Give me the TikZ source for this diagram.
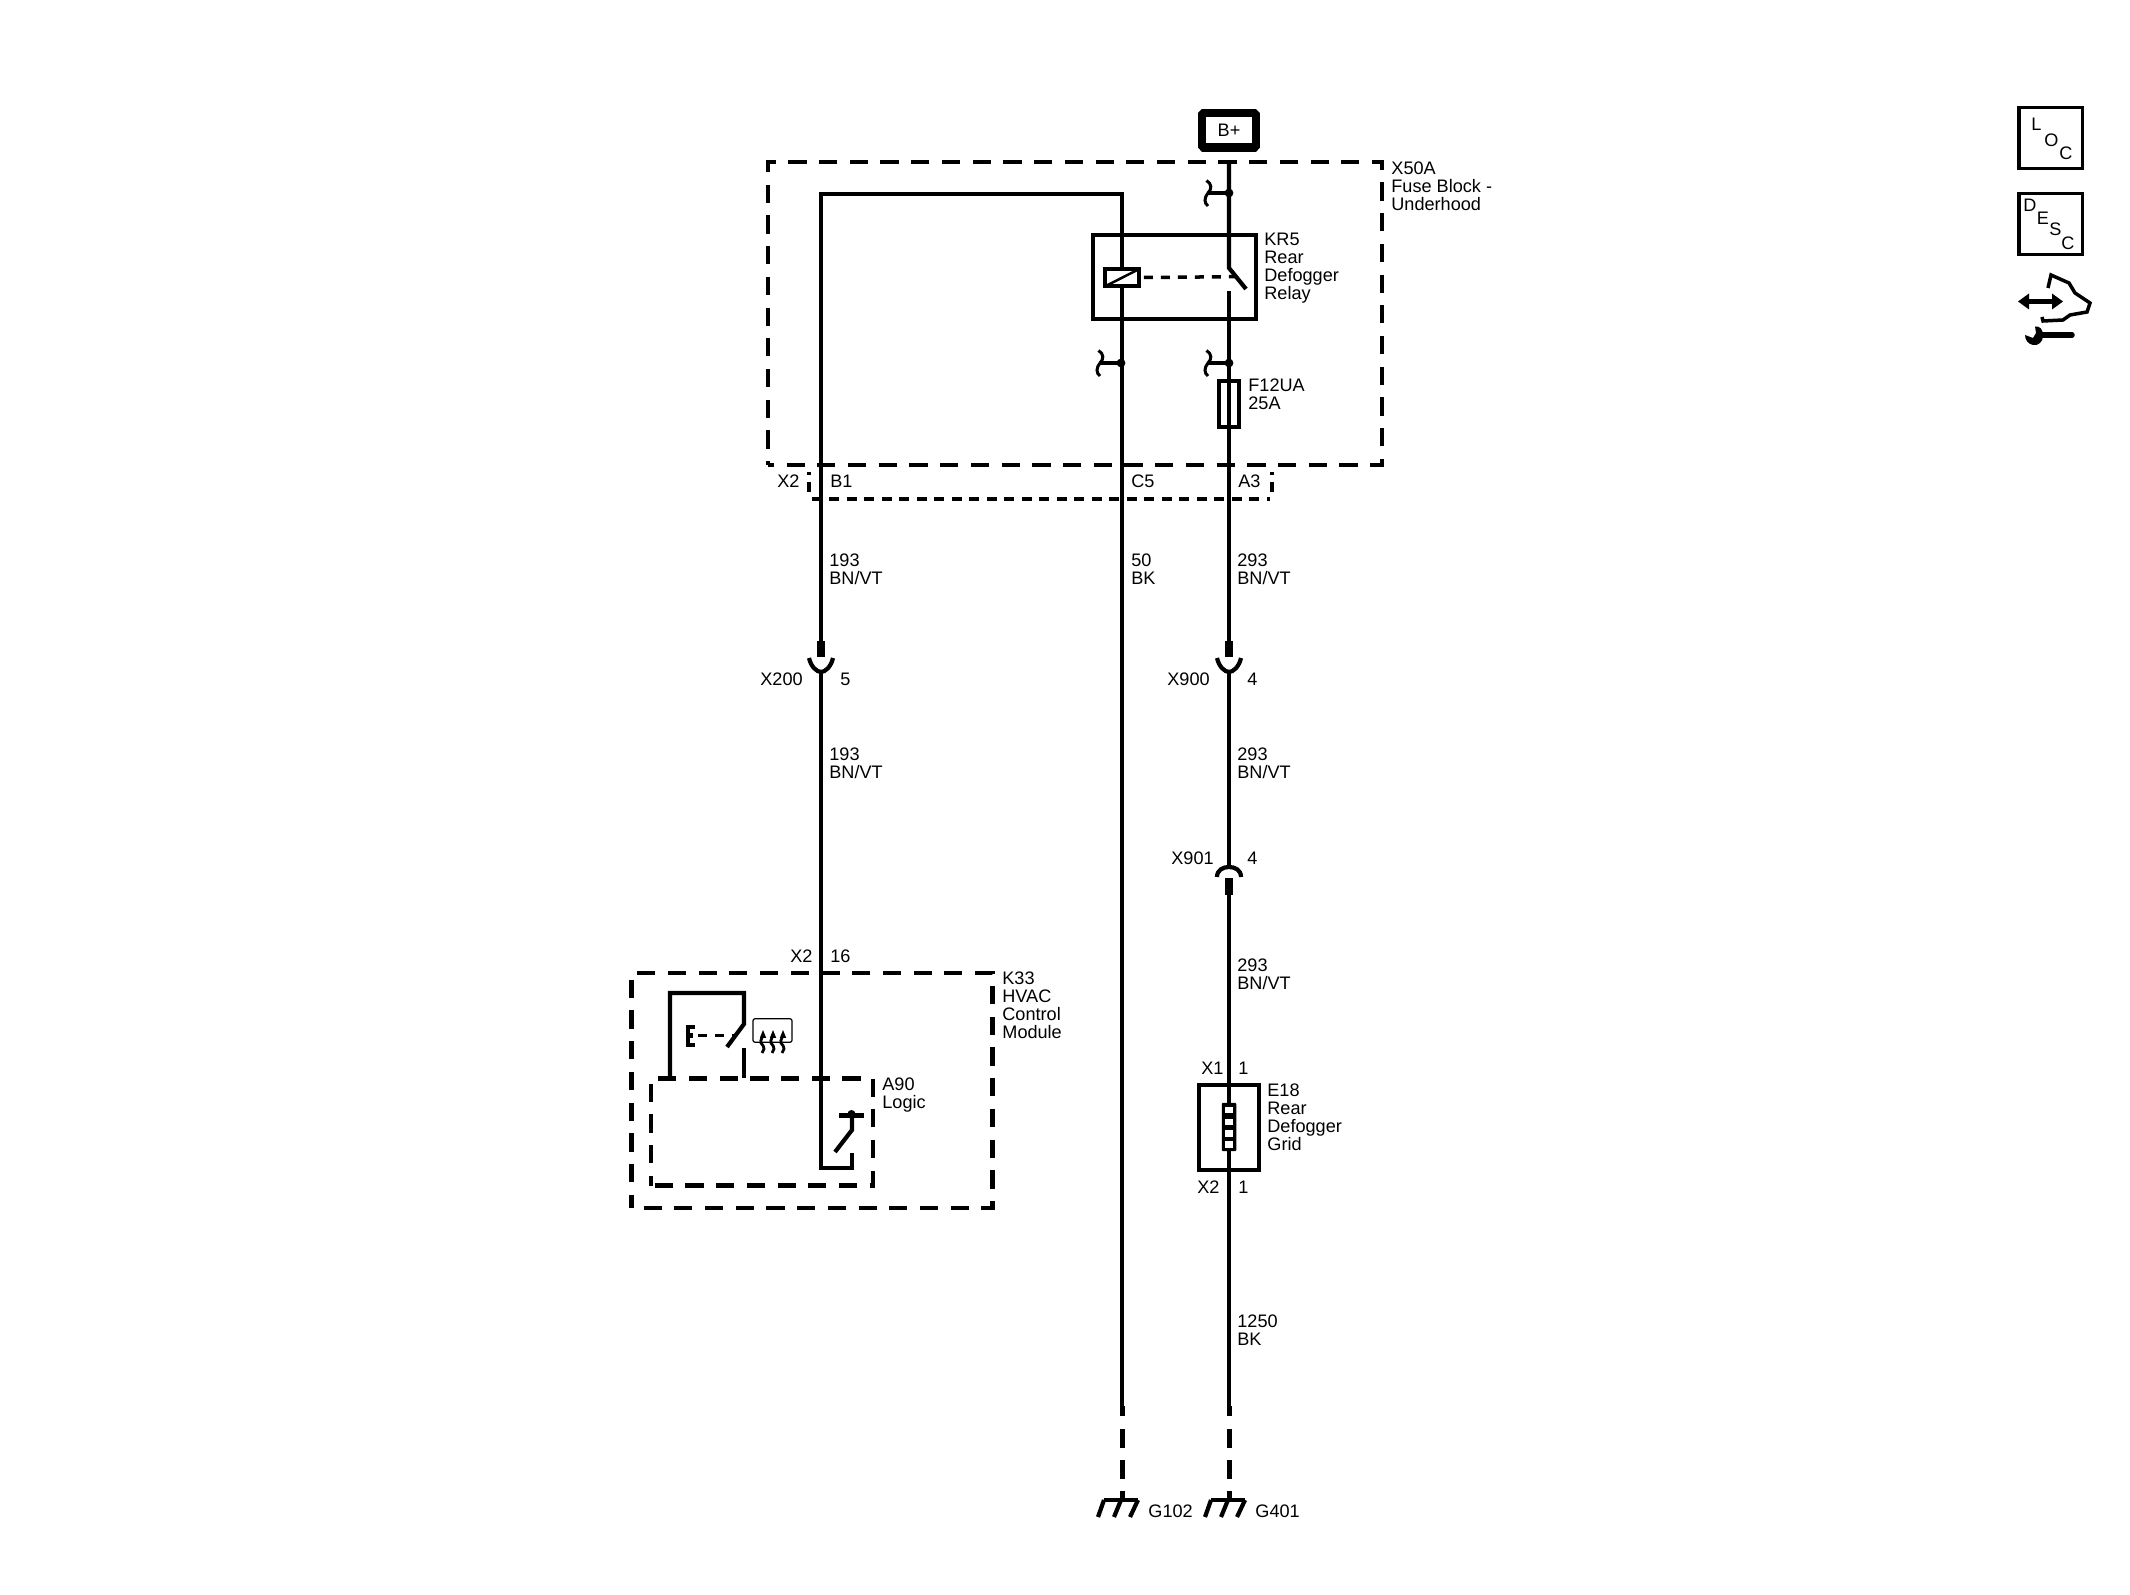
\documentclass[tikz,border=0pt]{standalone}
\usepackage{fontspec}
\setmainfont{Liberation Sans}
\usepackage{tikz}
\usetikzlibrary{calc}
\tikzstyle{wire} = [line width=0.042cm]
\tikzstyle{stub} = [line width=0.08cm]
\tikzstyle{gndwire} = [line width=0.05cm]
\tikzstyle{gnddash} = [line width=0.05cm, dash pattern=on 0.19cm off 0.12cm]
\tikzstyle{thinbox} = [rectangle, draw, line width=0.04cm, inner sep=0, fill=white]
\tikzstyle{dashbox} = [rectangle, draw, line width=0.045cm, inner sep=0, dash pattern=on 0.182cm off 0.125cm]
\tikzstyle{portbox} = [line width=0.035cm, dash pattern=on 0.1cm off 0.075cm]
\tikzstyle{ctrl} = [line width=0.035cm, dash pattern=on 0.09cm off 0.08cm]
\tikzstyle{lab} = [anchor=north west, inner sep=0, align=left, xshift=-0.013cm, yshift=0.006cm, font=\fontsize{5.15pt}{5.12pt}\selectfont]
\tikzset{
  splice/.pic={
    \fill (0,0) circle (4.4);
    \draw [wire] (0,0) -- (-21,0);
    \draw [line width=0.03cm] (-22.5,-12.5) .. controls (-17,-9) and (-17,-4) .. (-21,0) .. controls (-25,5) and (-25,10) .. (-21,13);
  },
  socketdown/.pic={
    \draw [wire] (-12,-14) .. controls (-10,-5) and (-4,0) .. (0,0) .. controls (4,0) and (10,-5) .. (12,-14);
  },
  socketup/.pic={
    \draw [wire] (-12,10) .. controls (-12,3) and (-6,0) .. (0,0) .. controls (6,0) and (12,3) .. (12,10);
  },
  ground/.pic={
    \draw [wire] (-18,0) -- (16,0);
    \draw [wire] (-18,0) -- (-24,17);
    \draw [wire] (-1,0) -- (-8,17);
    \draw [wire] (16,0) -- (8,17);
  },
  steam/.pic={
    \draw [line width=0.028cm] (0,4) .. controls (0,7) and (-3,8) .. (-2,12) .. controls (-1,15) and (2,15) .. (1,18) .. controls (0.5,20) and (-1,21) .. (-1,22);
    \fill (0,-1) -- (-3.2,7) -- (3.2,7) -- cycle;
  }
}
\begin{document}
\begin{tikzpicture}[x=0.01cm, y=-0.01cm]
    \useasboundingbox (0,0) rectangle (2130,1595);

    % boxes
    \node (fuseblock) [dashbox, dash phase=0.12cm, minimum width=6.14cm, minimum height=3.03cm] at (1075,313.5) {};
    \node (hvac) [dashbox, dash phase=0.186cm, minimum width=3.61cm, minimum height=2.35cm] at (812,1090.5) {};
    \node (logic) [dashbox, dash phase=0.27cm, minimum width=2.22cm, minimum height=1.07cm] at (762,1132) {};

    % wire points
    \coordinate (b_corner) at (821,194);
    \coordinate (g_corner) at (1122,194);
    \coordinate (a_top) at (1229,162);
    \coordinate (a_pivot) at (1229,268);
    \coordinate (a_tip) at (1246,289);
    \coordinate (a_contact) at (1229,291);
    \coordinate (x900_top) at (1229,641);
    \coordinate (x900_end) at (1229,657);
    \coordinate (x900) at (1229,672);
    \coordinate (x901) at (1229,867);
    \coordinate (x901_end) at (1229,878);
    \coordinate (x901_low) at (1229,895);
    \coordinate (a_solid) at (1229,1406);
    \coordinate (a_thick) at (1229,1416);
    \coordinate (a_dash) at (1229,1429);
    \coordinate (g401) at (1229,1500);
    \coordinate (g_solid) at (1122,1406);
    \coordinate (g_thick) at (1122,1416);
    \coordinate (g_dash) at (1122,1429);
    \coordinate (g102) at (1122,1500);
    \coordinate (x200_top) at (821,641);
    \coordinate (x200_end) at (821,657);
    \coordinate (x200) at (821,672);
    \coordinate (b_low) at (821,1168);
    \coordinate (b_right) at (852,1168);
    \coordinate (b_contact) at (852,1153);
    \coordinate (sw_tip) at (835,1152);
    \coordinate (sw_knee) at (852,1130);
    \coordinate (sw_top) at (852,1114);
    \coordinate (s_left) at (670,1078);
    \coordinate (s_topleft) at (670,993);
    \coordinate (s_topright) at (744,993);
    \coordinate (s_pivot) at (744,1024);
    \coordinate (s_tip) at (727,1047);
    \coordinate (s_contact) at (744,1048);
    \coordinate (s_low) at (744,1078);

    % edges
    \draw [wire] (x200_top) -- (b_corner) -- (g_corner) -- (g_solid);
    \draw [wire] (a_top) -- (a_pivot) -- (a_tip);
    \draw [wire] (a_contact) -- (x900_top);
    \draw [wire] (x900) -- (x901);
    \draw [wire] (x901_low) -- (a_solid);
    \draw [wire] (x200) -- (b_low) -- (b_right) -- (b_contact);
    \draw [wire] (sw_tip) -- (sw_knee) -- (sw_top);
    \draw [stub] (x900_top) -- (x900_end);
    \draw [stub] (x200_top) -- (x200_end);
    \draw [stub] (x901_end) -- (x901_low);
    \draw [gndwire] (a_solid) -- (a_thick);
    \draw [gndwire] (g_solid) -- (g_thick);
    \draw [gnddash] (a_dash) -- (g401);
    \draw [gnddash] (g_dash) -- (g102);
    \draw [wire] (s_left) -- (s_topleft) -- (s_topright) -- (s_pivot) -- (s_tip);
    \draw [wire] (s_contact) -- (s_low);

    % port box
    \coordinate (port_a) at (809,472);
    \coordinate (port_b) at (809,475.5);
    \coordinate (port_c) at (809,482);
    \coordinate (port_d) at (809,492);
    \coordinate (port_e) at (811.7,499);
    \coordinate (port_f) at (1270,499);
    \coordinate (port_g) at (1272,492);
    \coordinate (port_h) at (1272,482);
    \coordinate (port_i) at (1272,475.5);
    \coordinate (port_j) at (1272,472);
    \draw [portbox] (port_e) -- (port_f);
    \draw [line width=0.035cm] (port_a) -- (port_b);
    \draw [line width=0.035cm] (port_c) -- (port_d);
    \draw [line width=0.035cm] (port_g) -- (port_h);
    \draw [line width=0.035cm] (port_i) -- (port_j);

    % parts
    \path (x900) pic {socketdown};
    \path (x200) pic {socketdown};
    \path (x901) pic {socketup};
    \path (g401) pic {ground};
    \path (g102) pic {ground};
    \path (1229,193) pic {splice};
    \path (1229,363) pic {splice};
    \path (1121,363) pic {splice};

    \node (bplus) [rectangle, draw, line width=0.085cm, line join=bevel, minimum width=0.54cm, minimum height=0.345cm, inner sep=0, font=\fontsize{5.15pt}{5.12pt}\selectfont] at (1229,130.5) {\raisebox{-0.3pt}{B+}};
    \node (relay) [rectangle, draw, line width=0.04cm, minimum width=1.625cm, minimum height=0.845cm] at (1174.7,277) {};
    \node (coil) [thinbox, minimum width=0.335cm, minimum height=0.165cm] at (1122,277.5) {};
    \draw [line width=0.025cm] ($(coil.south west)+(3,-2)$) -- ($(coil.north east)+(-2,2)$);
    \coordinate (relay_tip) at (1235,276.7);
    \draw [ctrl] ($(coil.east)+(3,0)$) -- (relay_tip);
    \node (fuse) [rectangle, draw, line width=0.04cm, minimum width=0.195cm, minimum height=0.46cm, inner sep=0] at (1229,404) {};

    % grid
    \node (grid) [rectangle, draw, line width=0.042cm, minimum width=0.6cm, minimum height=0.85cm] at (1229,1127.5) {};
    \node (grid_res) [rectangle, fill=black, rounded corners=0.01cm, minimum width=0.145cm, minimum height=0.48cm, inner sep=0] at (1229,1127) {};
    \foreach \y in {1110,1122,1133.5,1144.5} {
        \fill [white] (1225,\y-3.2) rectangle (1233,\y+3.2);
    }

    % defrost switch
    \draw [wire] (695,1027) -- (688,1027) -- (688,1045) -- (695,1045);
    \draw [wire] (688,1035.5) -- (693,1035.5);
    \coordinate (ctrl_a) at (698,1035.5);
    \coordinate (ctrl_b) at (735,1035.5);
    \draw [ctrl] (ctrl_a) -- (ctrl_b);
    \node (heatbox) [rectangle, draw, line width=0.012cm, rounded corners=0.02cm, minimum width=0.39cm, minimum height=0.23cm] at (772.5,1030.5) {};
    \foreach \x in {763,773,783} {
        \path (\x,1031) pic {steam};
    }

    % logic switch
    \draw [wire] (839,1115.5) -- (864,1115.5);
    \fill (851.5,1114) circle (4);

    % labels
    \node (x50a_lab) [lab] at (1392,162) {X50A\\Fuse Block -\\Underhood};
    \node (kr5_lab) [lab] at (1265,233) {KR5\\Rear\\Defogger\\Relay};
    \node (f12_lab) [lab] at (1249,379) {F12UA\\25A};
    \node (x2_lab) [lab] at (778,475) {X2};
    \node (b1_lab) [lab] at (831,475) {B1};
    \node (c5_lab) [lab] at (1132,475) {C5};
    \node (a3_lab) [lab] at (1239,475) {A3};
    \node (w193a_lab) [lab] at (830,554) {193\\BN/VT};
    \node (w50_lab) [lab] at (1132,554) {50\\BK};
    \node (w293a_lab) [lab] at (1238,554) {293\\BN/VT};
    \node (x200_lab) [lab] at (761,673) {X200};
    \node (p5_lab) [lab] at (841,673) {5};
    \node (x900_lab) [lab] at (1168,673) {X900};
    \node (p4a_lab) [lab] at (1248,673) {4};
    \node (w193b_lab) [lab] at (830,748) {193\\BN/VT};
    \node (w293b_lab) [lab] at (1238,748) {293\\BN/VT};
    \node (x901_lab) [lab] at (1172,852) {X901};
    \node (p4b_lab) [lab] at (1248,852) {4};
    \node (w293c_lab) [lab] at (1238,959) {293\\BN/VT};
    \node (x2b_lab) [lab] at (791,950) {X2};
    \node (p16_lab) [lab] at (831,950) {16};
    \node (k33_lab) [lab] at (1003,972) {K33\\HVAC\\Control\\Module};
    \node (a90_lab) [lab] at (883,1078) {A90\\Logic};
    \node (x1_lab) [lab] at (1202,1062) {X1};
    \node (p1a_lab) [lab] at (1239,1062) {1};
    \node (e18_lab) [lab] at (1268,1084) {E18\\Rear\\Defogger\\Grid};
    \node (x2c_lab) [lab] at (1198,1181) {X2};
    \node (p1b_lab) [lab] at (1239,1181) {1};
    \node (w1250_lab) [lab] at (1238,1314.5) {1250\\BK};
    \node (g102_lab) [lab] at (1149,1505) {G102};
    \node (g401_lab) [lab] at (1256,1505) {G401};

    % side icons
    \node (loc) [rectangle, draw, line width=0.035cm, minimum width=0.635cm, minimum height=0.605cm] at (2050.5,138) {};
    \node (loc_l) [lab] at (2032,118) {L};
    \node (loc_o) [lab] at (2045,134) {O};
    \node (loc_c) [lab] at (2060,147) {C};
    \node (desc) [rectangle, draw, line width=0.035cm, minimum width=0.635cm, minimum height=0.605cm] at (2050.5,224) {};
    \node (desc_d) [lab] at (2024,199) {D};
    \node (desc_e) [lab] at (2037.5,212) {E};
    \node (desc_s) [lab] at (2050,223) {S};
    \node (desc_c) [lab] at (2062,237) {C};

    \draw [line width=0.045cm] (2028,301.5) -- (2054,301.5);
    \fill (2018,301.5) -- (2029,293.5) -- (2029,309.5) -- cycle;
    \fill (2063,301.5) -- (2052,293.5) -- (2052,309.5) -- cycle;
    \draw [line width=0.035cm] (2048,288) -- (2051,275) -- (2069,283) -- (2075,293) -- (2090,303) -- (2087,312) -- (2070,315) -- (2063,320) -- (2043,321) -- (2042,317);
    \draw [line width=0.055cm, line cap=round] (2040,335) -- (2072,335);
    \fill (2035,326.5) .. controls (2040,326) and (2043,329) .. (2043,336) .. controls (2043,342) and (2038,346) .. (2033,345) .. controls (2028,344) and (2025,340) .. (2025,335) -- (2033,338) -- (2036,333) -- cycle;
\end{tikzpicture}
\end{document}
